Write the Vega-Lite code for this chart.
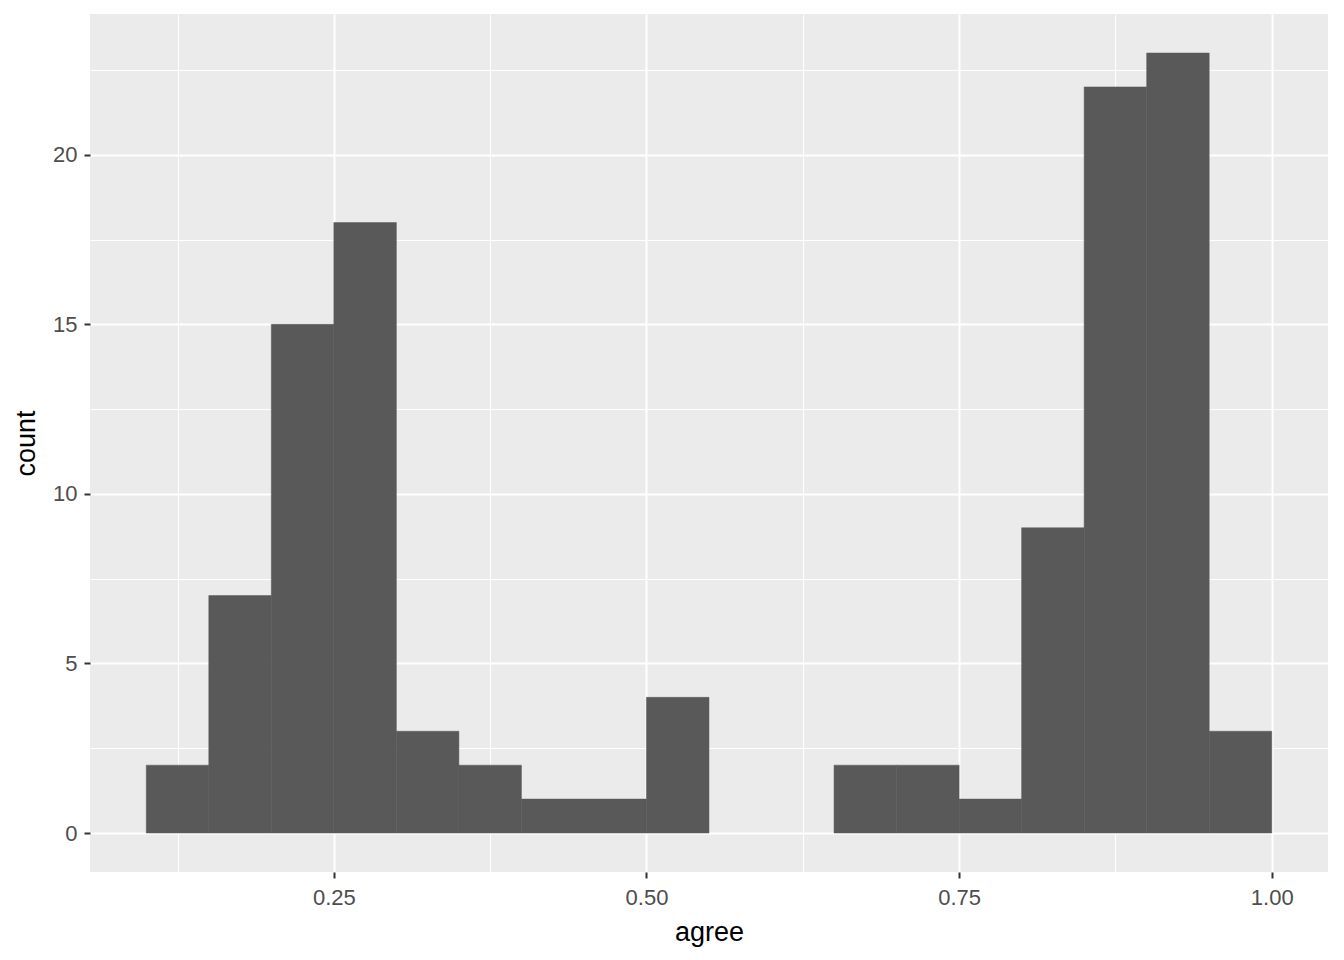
{
  "$schema": "https://vega.github.io/schema/vega-lite/v6.json",
  "autosize": "none",
  "width": 1238,
  "height": 858,
  "padding": {"left": 90, "top": 14, "right": 16, "bottom": 88},
  "background": "white",
  "config": {
    "view": {"fill": "#EBEBEB", "stroke": null},
    "font": "Liberation Sans",
    "axis": {
      "domain": false,
      "gridColor": "white",
      "tickColor": "#333333",
      "labelColor": "#4D4D4D",
      "labelFont": "Liberation Sans",
      "labelFontSize": 22,
      "titleFont": "Liberation Sans",
      "titleFontSize": 27,
      "titleFontWeight": "normal",
      "titleColor": "black",
      "tickSize": 6,
      "tickWidth": 2
    }
  },
  "data": {
    "values": [
      {"bin_start": 0.10, "bin_end": 0.15, "count": 2},
      {"bin_start": 0.15, "bin_end": 0.20, "count": 7},
      {"bin_start": 0.20, "bin_end": 0.25, "count": 15},
      {"bin_start": 0.25, "bin_end": 0.30, "count": 18},
      {"bin_start": 0.30, "bin_end": 0.35, "count": 3},
      {"bin_start": 0.35, "bin_end": 0.40, "count": 2},
      {"bin_start": 0.40, "bin_end": 0.45, "count": 1},
      {"bin_start": 0.45, "bin_end": 0.50, "count": 1},
      {"bin_start": 0.50, "bin_end": 0.55, "count": 4},
      {"bin_start": 0.55, "bin_end": 0.60, "count": 0},
      {"bin_start": 0.60, "bin_end": 0.65, "count": 0},
      {"bin_start": 0.65, "bin_end": 0.70, "count": 2},
      {"bin_start": 0.70, "bin_end": 0.75, "count": 2},
      {"bin_start": 0.75, "bin_end": 0.80, "count": 1},
      {"bin_start": 0.80, "bin_end": 0.85, "count": 9},
      {"bin_start": 0.85, "bin_end": 0.90, "count": 22},
      {"bin_start": 0.90, "bin_end": 0.95, "count": 23},
      {"bin_start": 0.95, "bin_end": 1.00, "count": 3}
    ]
  },
  "layer": [
    {
      "mark": {"type": "rect", "opacity": 0},
      "encoding": {
        "x": {
          "field": "bin_start", "type": "quantitative",
          "scale": {"domain": [0.055, 1.045], "nice": false, "zero": false},
          "axis": {"orient": "bottom", "values": [0.125, 0.375, 0.625, 0.875], "grid": true, "gridWidth": 1, "labels": false, "ticks": false, "title": null}
        },
        "x2": {"field": "bin_end"},
        "y": {
          "field": "count", "type": "quantitative",
          "scale": {"domain": [-1.15, 24.15], "nice": false, "zero": false},
          "axis": {"orient": "left", "values": [2.5, 7.5, 12.5, 17.5, 22.5], "grid": true, "gridWidth": 1, "labels": false, "ticks": false, "title": null}
        },
        "y2": {"datum": 0}
      }
    },
    {
      "mark": {"type": "rect", "color": "#595959", "stroke": "#595959"},
      "encoding": {
        "x": {
          "field": "bin_start", "type": "quantitative",
          "axis": {"orient": "bottom", "values": [0.25, 0.5, 0.75, 1.0], "format": ".2f", "grid": true, "gridWidth": 2, "labelPadding": 9, "title": "agree", "titlePadding": 11}
        },
        "x2": {"field": "bin_end"},
        "y": {
          "field": "count", "type": "quantitative",
          "axis": {"orient": "left", "values": [0, 5, 10, 15, 20], "grid": true, "gridWidth": 2, "labelPadding": 7, "title": "count", "titlePadding": 12}
        },
        "y2": {"datum": 0},
        "strokeWidth": {"condition": {"test": "datum.count > 0", "value": 0.5}, "value": 0}
      }
    }
  ],
  "resolve": {"axis": {"x": "independent", "y": "independent"}}
}
